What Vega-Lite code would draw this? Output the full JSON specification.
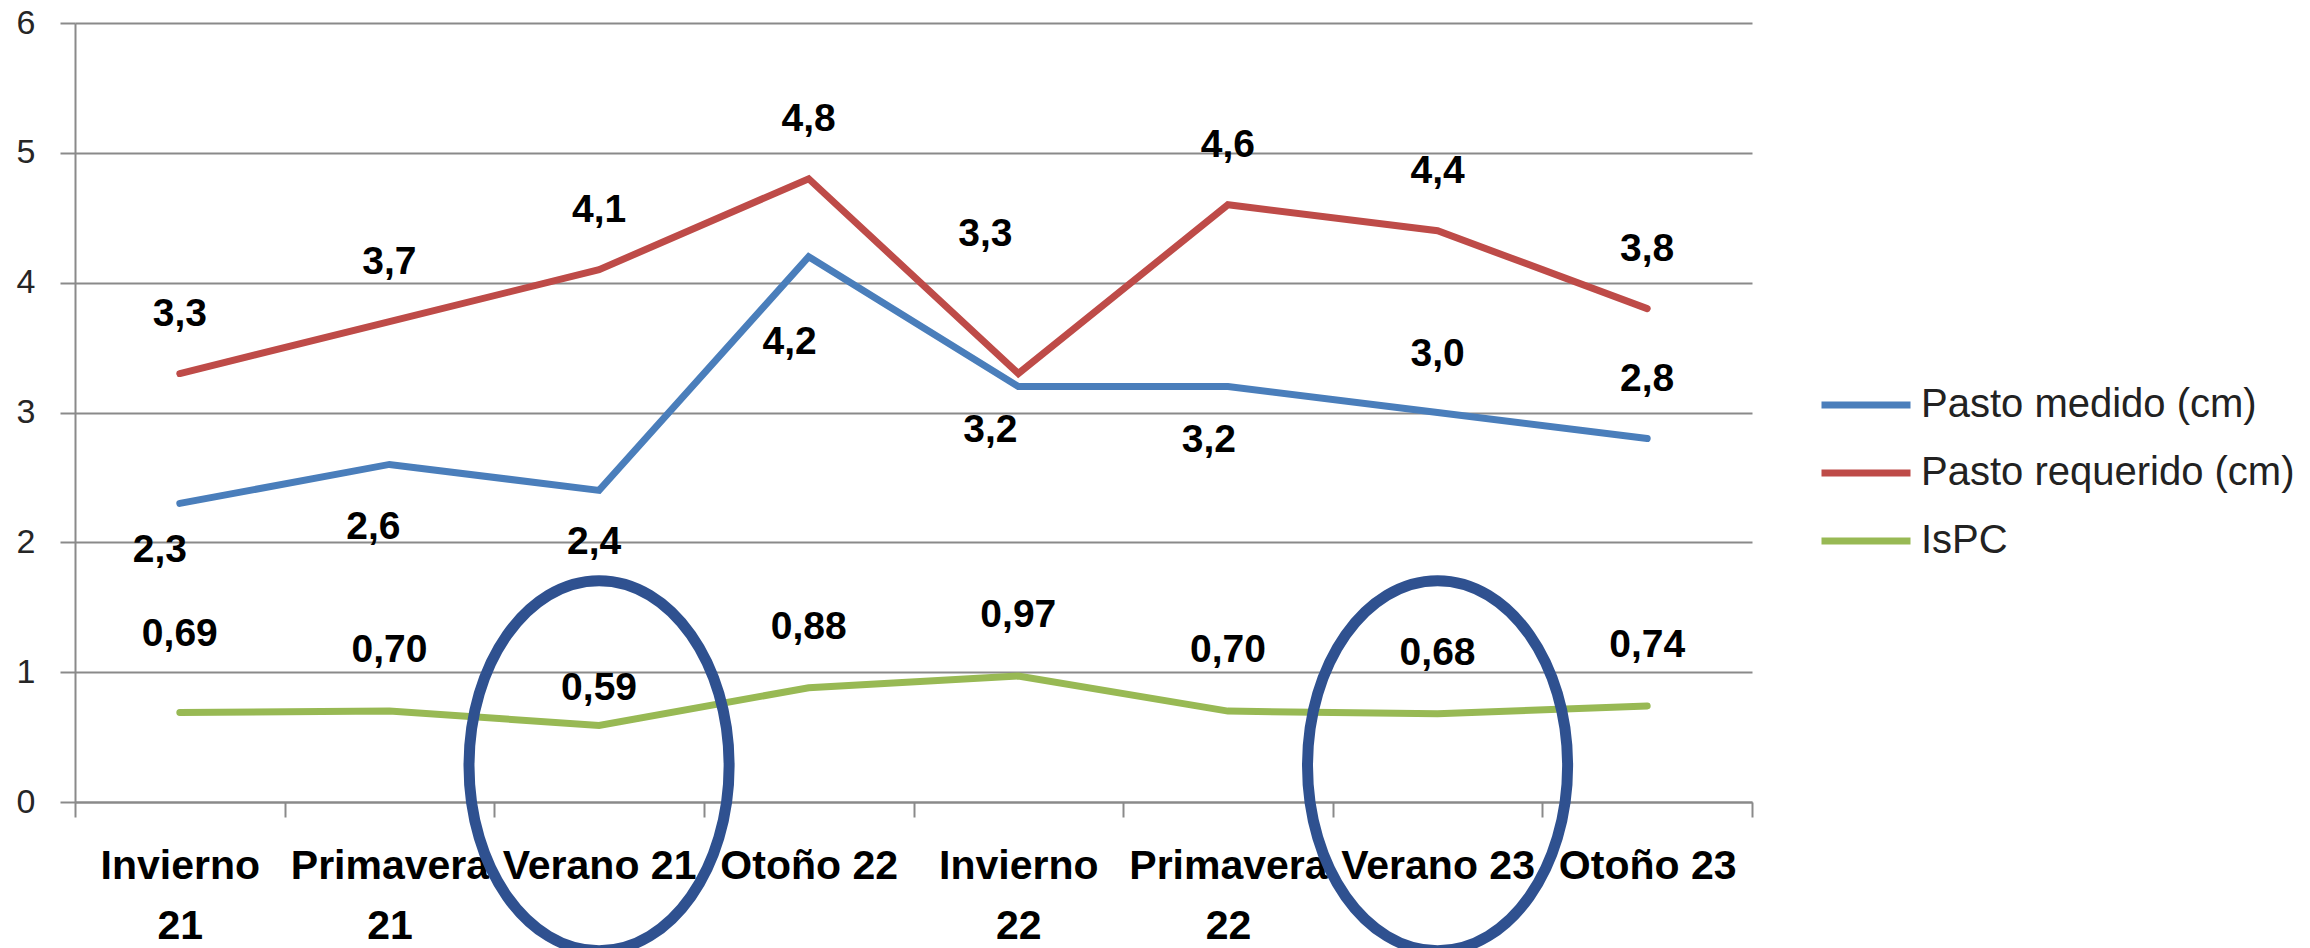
{
  "$schema": "https://vega.github.io/schema/vega-lite/v6.json",
  "width": 1677,
  "height": 779,
  "autosize": {"type": "none"},
  "padding": {"left": 75, "top": 23, "right": 558, "bottom": 146},
  "background": "white",
  "config": {
    "view": {"stroke": null},
    "font": "Liberation Sans",
    "locale": {"number": {"decimal": ",", "thousands": ".", "grouping": [3], "currency": ["", " €"]}},
    "axisX": {
      "tickBand": "extent", "tickSize": 15, "tickColor": "#8a8a8a", "tickWidth": 2,
      "domainColor": "#8a8a8a", "domainWidth": 2, "grid": false,
      "labelFont": "Liberation Sans", "labelFontSize": 41, "labelFontWeight": "bold", "labelColor": "#000000",
      "labelPadding": 29, "labelBaseline": "top", "labelLineHeight": 60, "labelAngle": 0,
      "labelOverlap": false, "labelLimit": 0, "title": null,
      "labelExpr": "test(/^(Invierno|Primavera)/, datum.label) ? split(datum.label, ' ') : datum.label"
    },
    "axisY": {
      "tickSize": 15, "tickColor": "#8a8a8a", "tickWidth": 2,
      "domainColor": "#8a8a8a", "domainWidth": 2, "grid": true, "gridColor": "#8a8a8a", "gridWidth": 2,
      "labelFont": "Liberation Sans", "labelFontSize": 34, "labelColor": "#262626", "labelPadding": 25, "title": null
    }
  },
  "datasets": {
    "series": [
      {"season": "Invierno 21", "series": "Pasto medido (cm)", "value": 2.3},
      {"season": "Primavera 21", "series": "Pasto medido (cm)", "value": 2.6},
      {"season": "Verano 21", "series": "Pasto medido (cm)", "value": 2.4},
      {"season": "Otoño 22", "series": "Pasto medido (cm)", "value": 4.2},
      {"season": "Invierno 22", "series": "Pasto medido (cm)", "value": 3.2},
      {"season": "Primavera 22", "series": "Pasto medido (cm)", "value": 3.2},
      {"season": "Verano 23", "series": "Pasto medido (cm)", "value": 3.0},
      {"season": "Otoño 23", "series": "Pasto medido (cm)", "value": 2.8},
      {"season": "Invierno 21", "series": "Pasto requerido (cm)", "value": 3.3},
      {"season": "Primavera 21", "series": "Pasto requerido (cm)", "value": 3.7},
      {"season": "Verano 21", "series": "Pasto requerido (cm)", "value": 4.1},
      {"season": "Otoño 22", "series": "Pasto requerido (cm)", "value": 4.8},
      {"season": "Invierno 22", "series": "Pasto requerido (cm)", "value": 3.3},
      {"season": "Primavera 22", "series": "Pasto requerido (cm)", "value": 4.6},
      {"season": "Verano 23", "series": "Pasto requerido (cm)", "value": 4.4},
      {"season": "Otoño 23", "series": "Pasto requerido (cm)", "value": 3.8},
      {"season": "Invierno 21", "series": "IsPC", "value": 0.69},
      {"season": "Primavera 21", "series": "IsPC", "value": 0.70},
      {"season": "Verano 21", "series": "IsPC", "value": 0.59},
      {"season": "Otoño 22", "series": "IsPC", "value": 0.88},
      {"season": "Invierno 22", "series": "IsPC", "value": 0.97},
      {"season": "Primavera 22", "series": "IsPC", "value": 0.70},
      {"season": "Verano 23", "series": "IsPC", "value": 0.68},
      {"season": "Otoño 23", "series": "IsPC", "value": 0.74}
    ],
    "circles": [
      {"season": "Verano 21", "value": 0.28},
      {"season": "Verano 23", "value": 0.28}
    ]
  },
  "data": {"name": "series"},
  "encoding": {
    "x": {
      "field": "season", "type": "nominal",
      "sort": ["Invierno 21", "Primavera 21", "Verano 21", "Otoño 22", "Invierno 22", "Primavera 22", "Verano 23", "Otoño 23"],
      "scale": {"type": "band", "paddingInner": 0, "paddingOuter": 0,
        "domain": ["Invierno 21", "Primavera 21", "Verano 21", "Otoño 22", "Invierno 22", "Primavera 22", "Verano 23", "Otoño 23"]},
      "bandPosition": 0.5
    },
    "y": {
      "field": "value", "type": "quantitative",
      "scale": {"domain": [0, 6], "nice": false},
      "axis": {"values": [0, 1, 2, 3, 4, 5, 6], "format": "d"}
    }
  },
  "layer": [
    {
      "mark": {"type": "line", "strokeWidth": 7, "strokeCap": "round"},
      "encoding": {
        "color": {
          "field": "series", "type": "nominal",
          "scale": {"domain": ["Pasto medido (cm)", "Pasto requerido (cm)", "IsPC"], "range": ["#4a7ebb", "#be4b48", "#98b954"]},
          "legend": {
            "orient": "none", "legendX": 1743, "legendY": 334, "title": null,
            "symbolType": "stroke", "symbolSize": 7921, "symbolStrokeWidth": 7,
            "labelFont": "Liberation Sans", "labelFontSize": 40, "labelColor": "#222222",
            "labelOffset": 7, "rowPadding": 0, "labelLimit": 0
          }
        }
      }
    },
    {
      "data": {"name": "circles"},
      "mark": {
        "type": "point", "filled": false, "stroke": "#2f5190", "strokeWidth": 11, "opacity": 1, "size": 136900,
        "shape": "M0,-1 C0.388,-1 0.703,-0.5523 0.703,0 C0.703,0.5523 0.388,1 0,1 C-0.388,1 -0.703,0.5523 -0.703,0 C-0.703,-0.5523 -0.388,-1 0,-1 Z"
      }
    },
    {
      "transform": [{"filter": "datum.series === 'Pasto requerido (cm)' && datum.season !== 'Invierno 22'"}],
      "mark": {"type": "text", "dy": -60, "fontSize": 39, "fontWeight": "bold", "color": "#000000"},
      "encoding": {"text": {"field": "value", "format": ".1f"}}
    },
    {
      "transform": [{"filter": "datum.series === 'Pasto requerido (cm)' && datum.season === 'Invierno 22'"}],
      "mark": {"type": "text", "dx": -33, "dy": -140, "fontSize": 39, "fontWeight": "bold", "color": "#000000"},
      "encoding": {"text": {"field": "value", "format": ".1f"}}
    },
    {
      "transform": [{"filter": "datum.series === 'Pasto medido (cm)' && (datum.season === 'Verano 23' || datum.season === 'Otoño 23')"}],
      "mark": {"type": "text", "dy": -59, "fontSize": 39, "fontWeight": "bold", "color": "#000000"},
      "encoding": {"text": {"field": "value", "format": ".1f"}}
    },
    {
      "transform": [{"filter": "datum.series === 'Pasto medido (cm)' && datum.season === 'Invierno 21'"}],
      "mark": {"type": "text", "dx": -20, "dy": 47, "fontSize": 39, "fontWeight": "bold", "color": "#000000"},
      "encoding": {"text": {"field": "value", "format": ".1f"}}
    },
    {
      "transform": [{"filter": "datum.series === 'Pasto medido (cm)' && datum.season === 'Primavera 21'"}],
      "mark": {"type": "text", "dx": -16, "dy": 63, "fontSize": 39, "fontWeight": "bold", "color": "#000000"},
      "encoding": {"text": {"field": "value", "format": ".1f"}}
    },
    {
      "transform": [{"filter": "datum.series === 'Pasto medido (cm)' && datum.season === 'Verano 21'"}],
      "mark": {"type": "text", "dx": -5, "dy": 52, "fontSize": 39, "fontWeight": "bold", "color": "#000000"},
      "encoding": {"text": {"field": "value", "format": ".1f"}}
    },
    {
      "transform": [{"filter": "datum.series === 'Pasto medido (cm)' && datum.season === 'Otoño 22'"}],
      "mark": {"type": "text", "dx": -19, "dy": 85, "fontSize": 39, "fontWeight": "bold", "color": "#000000"},
      "encoding": {"text": {"field": "value", "format": ".1f"}}
    },
    {
      "transform": [{"filter": "datum.series === 'Pasto medido (cm)' && datum.season === 'Invierno 22'"}],
      "mark": {"type": "text", "dx": -28, "dy": 43, "fontSize": 39, "fontWeight": "bold", "color": "#000000"},
      "encoding": {"text": {"field": "value", "format": ".1f"}}
    },
    {
      "transform": [{"filter": "datum.series === 'Pasto medido (cm)' && datum.season === 'Primavera 22'"}],
      "mark": {"type": "text", "dx": -19, "dy": 53, "fontSize": 39, "fontWeight": "bold", "color": "#000000"},
      "encoding": {"text": {"field": "value", "format": ".1f"}}
    },
    {
      "transform": [{"filter": "datum.series === 'IsPC' && datum.season !== 'Invierno 21' && datum.season !== 'Verano 21'"}],
      "mark": {"type": "text", "dy": -61, "fontSize": 39, "fontWeight": "bold", "color": "#000000"},
      "encoding": {"text": {"field": "value", "format": ".2f"}}
    },
    {
      "transform": [{"filter": "datum.series === 'IsPC' && datum.season === 'Invierno 21'"}],
      "mark": {"type": "text", "dy": -78, "fontSize": 39, "fontWeight": "bold", "color": "#000000"},
      "encoding": {"text": {"field": "value", "format": ".2f"}}
    },
    {
      "transform": [{"filter": "datum.series === 'IsPC' && datum.season === 'Verano 21'"}],
      "mark": {"type": "text", "dy": -37, "fontSize": 39, "fontWeight": "bold", "color": "#000000"},
      "encoding": {"text": {"field": "value", "format": ".2f"}}
    }
  ]
}
